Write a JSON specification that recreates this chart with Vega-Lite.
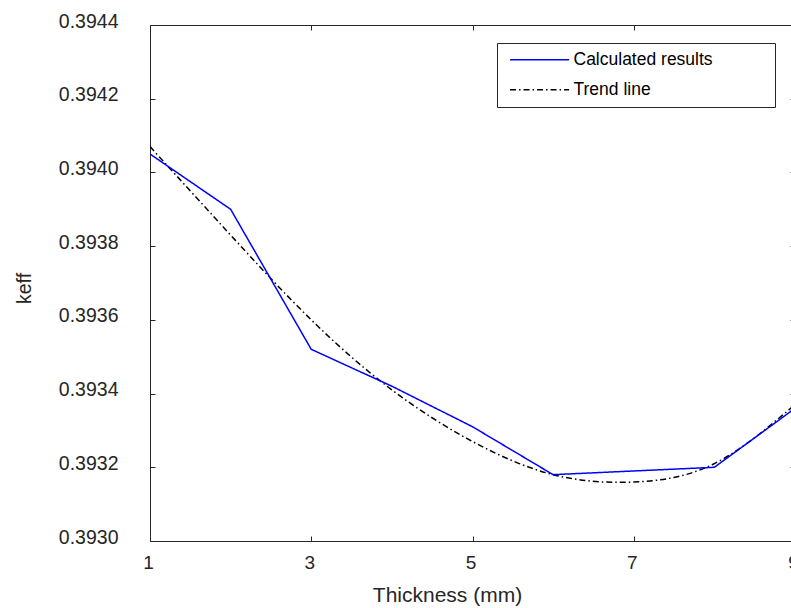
{
  "$schema": "https://vega.github.io/schema/vega-lite/v6.json",
  "autosize": {"type": "none"},
  "padding": {"left": 150, "top": 25, "right": 0, "bottom": 67},
  "width": 645,
  "height": 516,
  "background": "white",
  "config": {
    "font": "Liberation Sans",
    "view": {"stroke": "#262626", "strokeWidth": 1},
    "axis": {"grid": false, "domainColor": "#262626", "tickColor": "#262626", "labelColor": "#262626", "titleColor": "#262626", "labelFont": "Liberation Sans", "titleFont": "Liberation Sans", "titleFontWeight": "normal"}
  },
  "datasets": {
    "pts": [
      {"thickness": 1, "keff": 0.39405, "series": "Calculated results"},
      {"thickness": 2, "keff": 0.39390, "series": "Calculated results"},
      {"thickness": 3, "keff": 0.39352, "series": "Calculated results"},
      {"thickness": 4, "keff": 0.39342, "series": "Calculated results"},
      {"thickness": 5, "keff": 0.39331, "series": "Calculated results"},
      {"thickness": 6, "keff": 0.39318, "series": "Calculated results"},
      {"thickness": 7, "keff": 0.39319, "series": "Calculated results"},
      {"thickness": 8, "keff": 0.39320, "series": "Calculated results"},
      {"thickness": 9, "keff": 0.39336, "series": "Calculated results"},
      {"thickness": 1, "keff": 0.39407, "series": "Trend line"},
      {"thickness": 2, "keff": 0.39383, "series": "Trend line"},
      {"thickness": 3, "keff": 0.39360, "series": "Trend line"},
      {"thickness": 4, "keff": 0.39341, "series": "Trend line"},
      {"thickness": 5, "keff": 0.39327, "series": "Trend line"},
      {"thickness": 6, "keff": 0.39318, "series": "Trend line"},
      {"thickness": 7, "keff": 0.39316, "series": "Trend line"},
      {"thickness": 8, "keff": 0.39321, "series": "Trend line"},
      {"thickness": 9, "keff": 0.39337, "series": "Trend line"}
    ]
  },
  "data": {"name": "pts"},
  "resolve": {"axis": {"x": "independent", "y": "independent"}},
  "layer": [
    {
      "transform": [{"filter": "datum.series == 'Trend line'"}],
      "mark": {"type": "line", "interpolate": "natural", "strokeWidth": 1.5, "clip": true},
      "encoding": {
        "x": {"field": "thickness", "type": "quantitative", "scale": {"domain": [1, 9], "nice": false},
          "axis": {"title": "Thickness (mm)", "values": [1, 3, 5, 7, 9], "orient": "bottom", "tickSize": -5, "labelPadding": 17, "labelFlush": false, "labelOffset": -2, "labelFontSize": 19, "titleFontSize": 21, "titlePadding": 12, "titleX": 297, "domain": false}},
        "y": {"field": "keff", "type": "quantitative", "scale": {"domain": [0.393, 0.3944], "nice": false, "zero": false},
          "axis": {"title": "keff", "values": [0.393, 0.3932, 0.3934, 0.3936, 0.3938, 0.394, 0.3942, 0.3944], "format": ".4f", "orient": "left", "tickSize": -5, "labelPadding": 37, "labelOffset": -4, "labelFontSize": 19.5, "titleFontSize": 19.5, "titlePadding": 24, "titleY": 263, "domain": false}},
        "color": {"field": "series", "type": "nominal", "scale": {"domain": ["Calculated results", "Trend line"], "range": ["#0000ff", "#000000"]},
          "legend": {"title": null, "orient": "none", "legendX": 347, "legendY": 18, "strokeColor": "#262626", "fillColor": "white", "padding": 8, "rowPadding": 11, "labelFontSize": 17.5, "labelColor": "#000000", "symbolType": "M-0.5,0H7.5", "symbolSize": 218, "symbolStrokeWidth": 1.5, "labelOffset": 51, "labelLimit": 500, "labelExpr": "datum.label + '\u00a0\u00a0\u00a0\u00a0\u00a0\u00a0\u00a0\u00a0\u00a0\u00a0\u00a0\u200b'"}},
        "strokeDash": {"field": "series", "type": "nominal", "scale": {"domain": ["Calculated results", "Trend line"], "range": [[1, 0], [6, 3, 1.5, 3]]}, "legend": null}
      }
    },
    {
      "transform": [{"filter": "datum.series == 'Calculated results'"}],
      "mark": {"type": "line", "strokeWidth": 1.5, "clip": true},
      "encoding": {
        "x": {"field": "thickness", "type": "quantitative",
          "axis": {"title": null, "values": [1, 3, 5, 7, 9], "orient": "top", "tickSize": -5, "labels": false, "domain": false}},
        "y": {"field": "keff", "type": "quantitative",
          "axis": {"title": null, "values": [0.393, 0.3932, 0.3934, 0.3936, 0.3938, 0.394, 0.3942, 0.3944], "orient": "right", "tickSize": -5, "labels": false, "domain": false}},
        "color": {"field": "series", "type": "nominal"},
        "strokeDash": {"field": "series", "type": "nominal"}
      }
    }
  ]
}
